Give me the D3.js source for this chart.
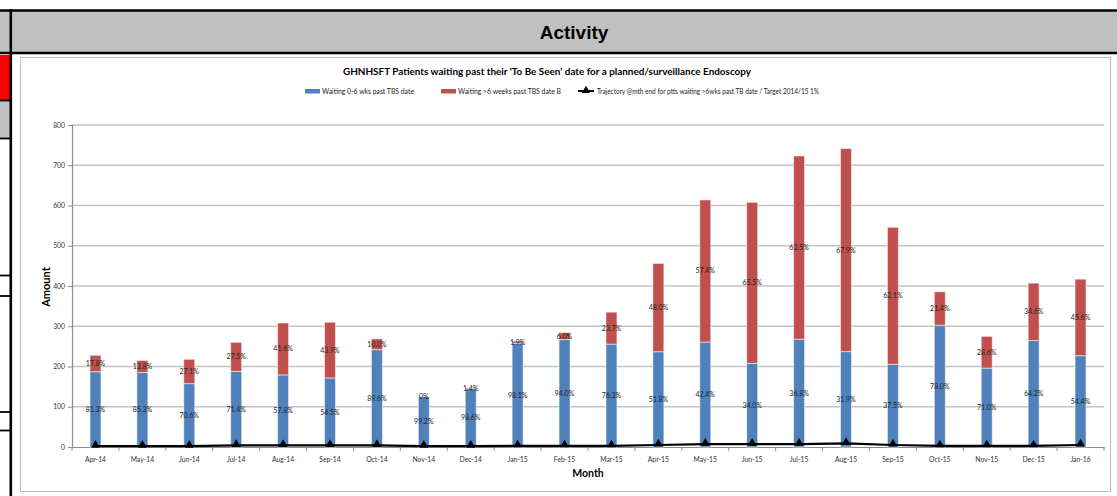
<!DOCTYPE html>
<html>
<head>
<meta charset="utf-8">
<script src="https://cdn.jsdelivr.net/npm/d3@7/dist/d3.min.js"></script>
<style>
  html, body { margin: 0; padding: 0; background: #fff; }
  svg { display: block; }
  text { font-family: Lato, "Open Sans", sans-serif; }
</style>
</head>
<body>
<svg id="chart" width="1117" height="496"></svg>
<script>
// Monthly snapshot of endoscopy patients waiting past their TBS date
const months = ["Apr-14","May-14","Jun-14","Jul-14","Aug-14","Sep-14","Oct-14","Nov-14","Dec-14",
  "Jan-15","Feb-15","Mar-15","Apr-15","May-15","Jun-15","Jul-15","Aug-15","Sep-15","Oct-15",
  "Nov-15","Dec-15","Jan-16"];
// Total patients past TBS date each month (base for the percentages)
const totalPatients = [230,217,223,263,310,315,270,126,147,263,284,335,457,615,611,728,743,548,388,276,412,417];
// Share waiting 0-6 weeks past TBS date (%)
const pctShort = [81.3,85.3,70.6,71.4,57.8,54.5,89.6,99.2,98.6,98.1,94.0,76.3,51.8,42.4,34.0,36.8,31.9,37.5,78.0,71.0,64.2,54.4];
// Share waiting more than 6 weeks past TBS date (%)
const pctLong = [17.8,13.8,27.1,27.5,41.6,43.9,10.0,0,1.4,1.9,6.0,23.7,48.0,57.4,65.5,62.5,67.9,62.1,21.4,28.6,34.6,45.6];
// Trajectory at month end for patients waiting >6 weeks
const trajectory = [2,2,2,4,4,4,4,2,2,3,3,3,5,7,7,7,9,5,3,3,3,5];
const yTicks = [0,100,200,300,400,500,600,700,800];

const BLUE = "#4F81BD", RED = "#C0504D";
const svg = d3.select("#chart");

// ---- Spreadsheet frame around the chart ----
const frame = svg.append("g");
frame.append("rect").attr("x", 0).attr("y", 11).attr("width", 1117).attr("height", 42).attr("fill", "#c0c0c0");
frame.append("rect").attr("x", 0).attr("y", 55).attr("width", 10).attr("height", 45).attr("fill", "#ff0000");
frame.append("rect").attr("x", 0).attr("y", 101).attr("width", 10).attr("height", 38).attr("fill", "#c0c0c0");
const blackH = [[0, 1117, 10.5, 2.5], [0, 1117, 53, 2.5], [0, 10, 100.5, 1.8], [0, 10, 138.5, 1.8],
  [0, 10, 275.5, 1.8], [0, 10, 296, 1.8], [0, 10, 412, 1.8], [0, 10, 430.5, 1.8]];
blackH.forEach(([x1, x2, y, w]) => {
  frame.append("line").attr("x1", x1).attr("x2", x2).attr("y1", y).attr("y2", y)
    .attr("stroke", "#000").attr("stroke-width", w);
});
frame.append("line").attr("x1", 10.8).attr("x2", 10.8).attr("y1", 9).attr("y2", 496)
  .attr("stroke", "#000").attr("stroke-width", 2.6);
frame.append("text").attr("x", 574).attr("y", 39).attr("text-anchor", "middle")
  .style("font-family", "'Liberation Sans', Arial, sans-serif")
  .style("font-weight", "bold").style("font-size", "19px").attr("fill", "#000")
  .text("Activity");

// Chart area border
svg.append("rect").attr("x", 20.5).attr("y", 57.5).attr("width", 1090).attr("height", 434)
  .attr("fill", "#fff").attr("stroke", "#bdbdbd").attr("stroke-width", 1);

// ---- Title and legend ----
svg.append("text").attr("x", 343).attr("y", 74.5)
  .attr("textLength", 408).attr("lengthAdjust", "spacingAndGlyphs")
  .style("font-weight", "bold").style("font-size", "9.5px").attr("fill", "#000")
  .text("GHNHSFT Patients waiting past their 'To Be Seen' date for a planned/surveillance Endoscopy");

const legend = svg.append("g").style("font-size", "6.8px").attr("fill", "#222");
legend.append("rect").attr("x", 305).attr("y", 89).attr("width", 15).attr("height", 4.5).attr("fill", BLUE);
legend.append("text").attr("x", 322).attr("y", 94).attr("textLength", 92).attr("lengthAdjust", "spacingAndGlyphs")
  .text("Waiting 0-6 wks past TBS date");
legend.append("rect").attr("x", 441).attr("y", 89).attr("width", 15).attr("height", 4.5).attr("fill", RED);
legend.append("text").attr("x", 458).attr("y", 94).attr("textLength", 103).attr("lengthAdjust", "spacingAndGlyphs")
  .text("Waiting >6 weeks past TBS date B");
legend.append("line").attr("x1", 578).attr("x2", 594).attr("y1", 91).attr("y2", 91)
  .attr("stroke", "#000").attr("stroke-width", 2);
legend.append("path").attr("d", d3.symbol(d3.symbolTriangle, 30)())
  .attr("transform", "translate(586,90.5)").attr("fill", "#000");
legend.append("text").attr("x", 597).attr("y", 94).attr("textLength", 222).attr("lengthAdjust", "spacingAndGlyphs")
  .text("Trajectory @mth end for ptts waiting >6wks past TB date / Target 2014/15 1%");

// ---- Scales ----
const plot = { left: 72, right: 1104, top: 125, bottom: 447 };
const x = d3.scaleBand().domain(months).range([plot.left, plot.right]).padding(0);
const y = d3.scaleLinear().domain([0, 800]).range([plot.bottom, plot.top]);
const barW = 11;

// Gridlines
svg.append("g").selectAll("line").data(yTicks.filter(d => d > 0)).join("line")
  .attr("x1", plot.left).attr("x2", plot.right)
  .attr("y1", d => y(d)).attr("y2", d => y(d))
  .attr("stroke", "#c4c4c4").attr("stroke-width", 1.3);

// Y axis
const yAxis = svg.append("g").attr("transform", `translate(${plot.left},0)`)
  .call(d3.axisLeft(y).tickValues(yTicks).tickSize(4).tickPadding(3));
yAxis.select(".domain").attr("stroke", "#8c8c8c").attr("stroke-width", 1.2);
yAxis.selectAll(".tick line").attr("stroke", "#8c8c8c");
yAxis.selectAll(".tick text").style("font-family", "Lato, sans-serif").style("font-size", "6.8px").attr("fill", "#333");

// X axis with ticks on the category boundaries
const xAxis = svg.append("g").attr("transform", `translate(0,${plot.bottom})`)
  .call(d3.axisBottom(x).tickSize(0).tickPadding(10));
xAxis.select(".domain").attr("stroke", "#8c8c8c").attr("stroke-width", 1.2);
xAxis.selectAll(".tick text").style("font-family", "Lato, sans-serif").style("font-size", "6.8px").attr("fill", "#333");
svg.append("g").selectAll("line").data(months.concat(["end"])).join("line")
  .attr("x1", (d, i) => plot.left + i * x.bandwidth()).attr("x2", (d, i) => plot.left + i * x.bandwidth())
  .attr("y1", plot.bottom).attr("y2", plot.bottom + 4)
  .attr("stroke", "#8c8c8c").attr("stroke-width", 1);

// ---- Stacked bars ----
const rows = months.map((m, i) => {
  const short = totalPatients[i] * pctShort[i] / 100;
  const long = totalPatients[i] * pctLong[i] / 100;
  return { m, short, long, pS: pctShort[i], pL: pctLong[i] };
});
const bars = svg.append("g");
bars.selectAll("rect.short").data(rows).join("rect").attr("class", "short")
  .attr("x", d => x(d.m) + x.bandwidth() / 2 - barW / 2).attr("width", barW)
  .attr("y", d => y(d.short)).attr("height", d => y(0) - y(d.short))
  .attr("fill", BLUE).attr("stroke", "rgba(255,255,255,0.55)").attr("stroke-width", 1);
bars.selectAll("rect.long").data(rows).join("rect").attr("class", "long")
  .attr("x", d => x(d.m) + x.bandwidth() / 2 - barW / 2).attr("width", barW)
  .attr("y", d => y(d.short + d.long)).attr("height", d => y(d.short) - y(d.short + d.long))
  .attr("fill", RED).attr("stroke", "rgba(255,255,255,0.55)").attr("stroke-width", 1);

// Percentage labels at the middle of each segment
const fmt = v => v === 0 ? "0%" : v.toFixed(1) + "%";
const labels = svg.append("g").style("font-size", "7px").attr("fill", "#222").attr("text-anchor", "middle");
labels.selectAll("text.s").data(rows).join("text").attr("class", "s")
  .attr("x", d => x(d.m) + x.bandwidth() / 2).attr("y", d => y(d.short / 2)).attr("dy", "0.35em")
  .text(d => fmt(d.pS));
labels.selectAll("text.l").data(rows).join("text").attr("class", "l")
  .attr("x", d => x(d.m) + x.bandwidth() / 2).attr("y", d => y(d.short + d.long / 2)).attr("dy", "0.35em")
  .text(d => fmt(d.pL));

// ---- Trajectory line ----
const line = d3.line().x((d, i) => x(months[i]) + x.bandwidth() / 2).y(d => y(d));
svg.append("path").datum(trajectory).attr("d", line)
  .attr("fill", "none").attr("stroke", "#000").attr("stroke-width", 2.2);
svg.append("g").selectAll("path").data(trajectory).join("path")
  .attr("d", d3.symbol(d3.symbolTriangle, 34)())
  .attr("transform", (d, i) => `translate(${x(months[i]) + x.bandwidth() / 2},${y(d) - 1})`)
  .attr("fill", "#000");

// Axis titles
svg.append("text").attr("transform", "translate(50,287) rotate(-90)").attr("text-anchor", "middle")
  .style("font-weight", "bold").style("font-size", "11px").attr("fill", "#000").text("Amount");
svg.append("text").attr("x", 588).attr("y", 477).attr("text-anchor", "middle")
  .style("font-weight", "bold").style("font-size", "10.5px").attr("fill", "#000").text("Month");
</script>
</body>
</html>
